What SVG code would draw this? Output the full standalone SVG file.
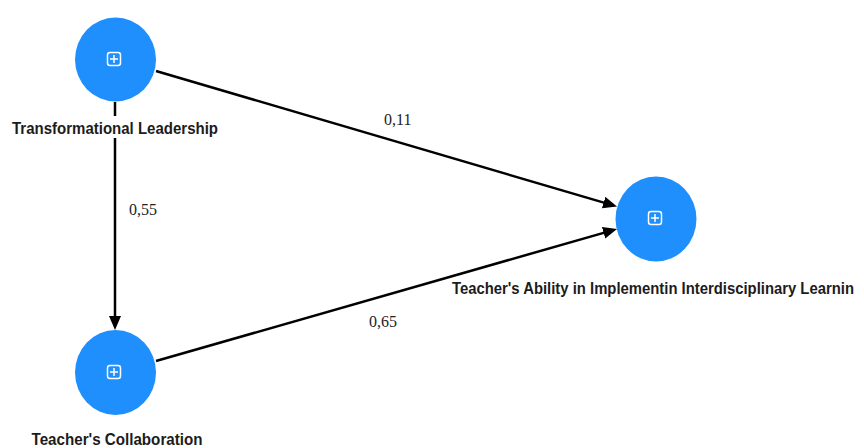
<svg xmlns="http://www.w3.org/2000/svg" width="864" height="448" viewBox="0 0 864 448">
<defs>
<style>
.node{fill:#1e8ffc;}
.icon{fill:none;stroke:#ffffff;stroke-width:1.5;}
.lbl{font-family:"Liberation Sans",Arial,sans-serif;font-weight:bold;font-size:16px;fill:#1c1c1c;text-anchor:middle;}
.lblbg{fill:#ffffff;}
.edge{stroke:#000000;stroke-width:2.5;fill:none;}
.w{font-family:"Liberation Serif","Times New Roman",serif;font-size:16px;fill:#222222;}
</style>
<marker id="arr" markerUnits="userSpaceOnUse" markerWidth="14" markerHeight="12" refX="10" refY="6" orient="auto" viewBox="0 0 14 12">
<path d="M0,0 L14,6 L0,12 z" fill="#000000"/>
</marker>
<g id="plus">
<rect x="-6.5" y="-6.5" width="13" height="13" rx="2.5" class="icon"/>
<path d="M0,-4 V4 M-4,0 H4" class="icon"/>
</g>
</defs>
<rect width="864" height="448" fill="#ffffff"/>
<g id="connectors">
<path class="edge" d="M156,71 L613.2,205.4" marker-end="url(#arr)"/>
<path class="edge" d="M115,102 L115,326" marker-end="url(#arr)"/>
<path class="edge" d="M156,361 L613.2,230.1" marker-end="url(#arr)"/>
<text class="w" x="384" y="125">0,11</text>
<text class="w" x="129" y="215">0,55</text>
<text class="w" x="369" y="327">0,65</text>
</g>
<g id="node-tl">
<ellipse class="node" cx="115.5" cy="59.5" rx="40.5" ry="42"/>
<use href="#plus" x="114" y="59"/>
<rect class="lblbg" x="8" y="116" width="214" height="22"/>
<text class="lbl" x="115" y="134" textLength="206" lengthAdjust="spacingAndGlyphs">Transformational Leadership</text>
</g>
<g id="node-ta">
<ellipse class="node" cx="656" cy="219" rx="40.5" ry="42.5"/>
<use href="#plus" x="655" y="218"/>
<text class="lbl" x="653" y="293.5" textLength="402" lengthAdjust="spacingAndGlyphs">Teacher's Ability in Implementin Interdisciplinary Learnin</text>
</g>
<g id="node-tc">
<ellipse class="node" cx="115.5" cy="372.5" rx="40.5" ry="42.5"/>
<use href="#plus" x="114" y="372"/>
<text class="lbl" x="117" y="445" textLength="171" lengthAdjust="spacingAndGlyphs">Teacher's Collaboration</text>
</g>
</svg>
